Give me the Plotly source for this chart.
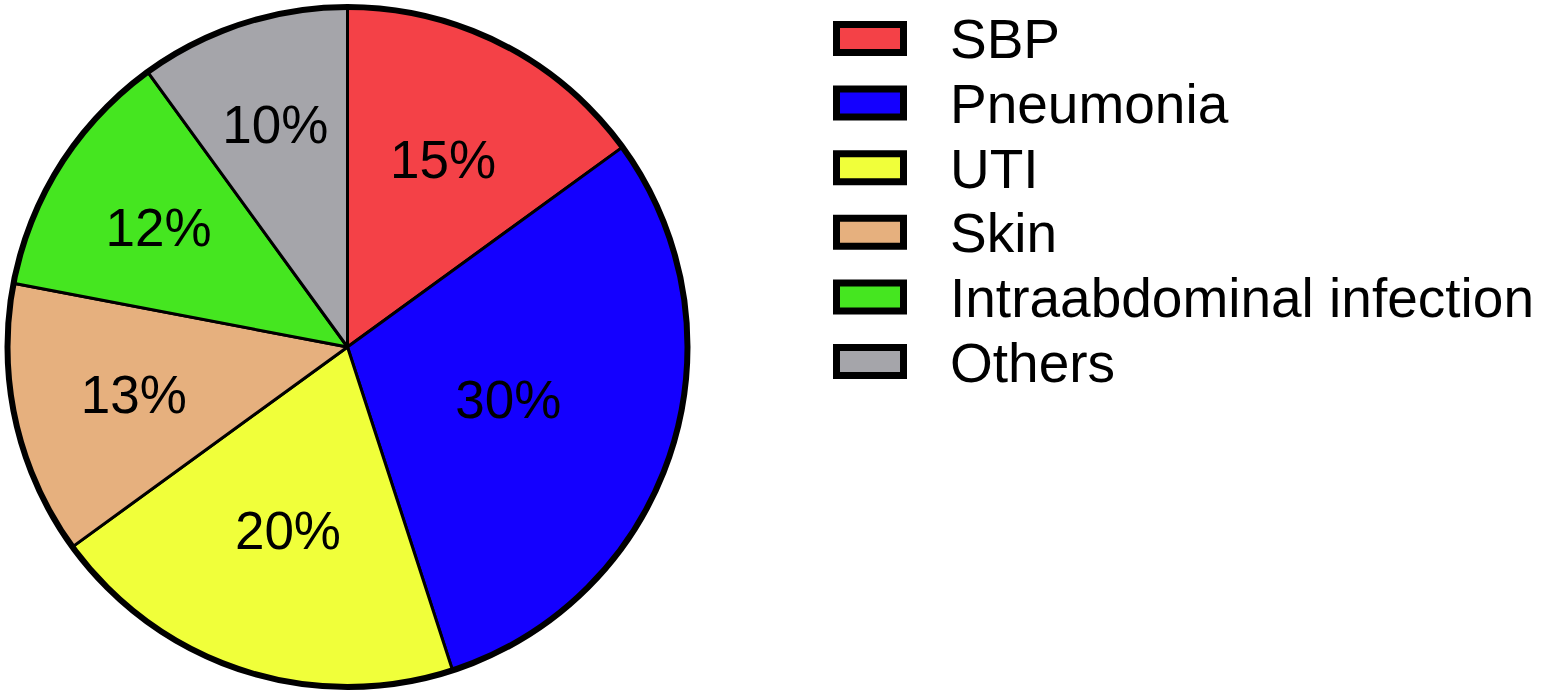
import plotly.graph_objects as go

categories = ["SBP", "Pneumonia", "UTI", "Skin", "Intraabdominal infection", "Others"]
values = [15, 30, 20, 13, 12, 10]
colors = ["#F44147", "#1400FF", "#F0FF3A", "#E6B07E", "#45E620", "#A5A5AA"]

W, H = 1542, 694
cx, cy, r = 347.5, 347, 340
FONT = "Liberation Sans, Arial, sans-serif"


def dom(rad):
    return dict(x=[(cx - rad) / W, (cx + rad) / W], y=[(H - cy - rad) / H, (H - cy + rad) / H])


fig = go.Figure()
# coloured slices
fig.add_trace(go.Pie(
    labels=categories,
    values=values,
    sort=False,
    direction="clockwise",
    rotation=0,
    marker=dict(colors=colors, line=dict(color="black", width=3)),
    textinfo="none",
    showlegend=False,
    hoverinfo="label+percent",
    domain=dom(r),
))
# percentage labels (transparent, slightly smaller radius so labels sit nearer the centre)
fig.add_trace(go.Pie(
    labels=categories,
    values=values,
    sort=False,
    direction="clockwise",
    rotation=0,
    marker=dict(colors=["rgba(0,0,0,0)"] * len(values), line=dict(width=0)),
    texttemplate="%{percent:.0%}",
    textposition="inside",
    insidetextorientation="horizontal",
    textfont=dict(family=FONT, size=53, color="black"),
    showlegend=False,
    hoverinfo="skip",
    domain=dom(0.9 * r),
))

shapes = [dict(type="circle", xref="paper", yref="paper",
               x0=(cx - r) / W, x1=(cx + r) / W,
               y0=(H - cy - r) / H, y1=(H - cy + r) / H,
               line=dict(color="black", width=6), fillcolor="rgba(0,0,0,0)")]
annotations = []
sw_x0, sw_x1 = 836.5, 903.5
top0, pitch, sh = 24.5, 64.6, 28
for i, (cat, col) in enumerate(zip(categories, colors)):
    y0 = top0 + i * pitch
    shapes.append(dict(type="rect", xref="paper", yref="paper",
                       x0=sw_x0 / W, x1=sw_x1 / W,
                       y0=1 - (y0 + sh) / H, y1=1 - y0 / H,
                       line=dict(color="black", width=7), fillcolor=col))
    annotations.append(dict(text=cat, xref="paper", yref="paper",
                            x=948 / W, y=1 - (y0 + sh / 2 + 1) / H,
                            xanchor="left", yanchor="middle", showarrow=False,
                            font=dict(family=FONT, size=55, color="black")))

fig.update_layout(
    width=W, height=H,
    margin=dict(l=0, r=0, t=0, b=0),
    paper_bgcolor="white", plot_bgcolor="white",
    shapes=shapes, annotations=annotations,
)
fig.write_html("out.html", config={"displayModeBar": False},
               post_script="document.body.style.margin='0';")
